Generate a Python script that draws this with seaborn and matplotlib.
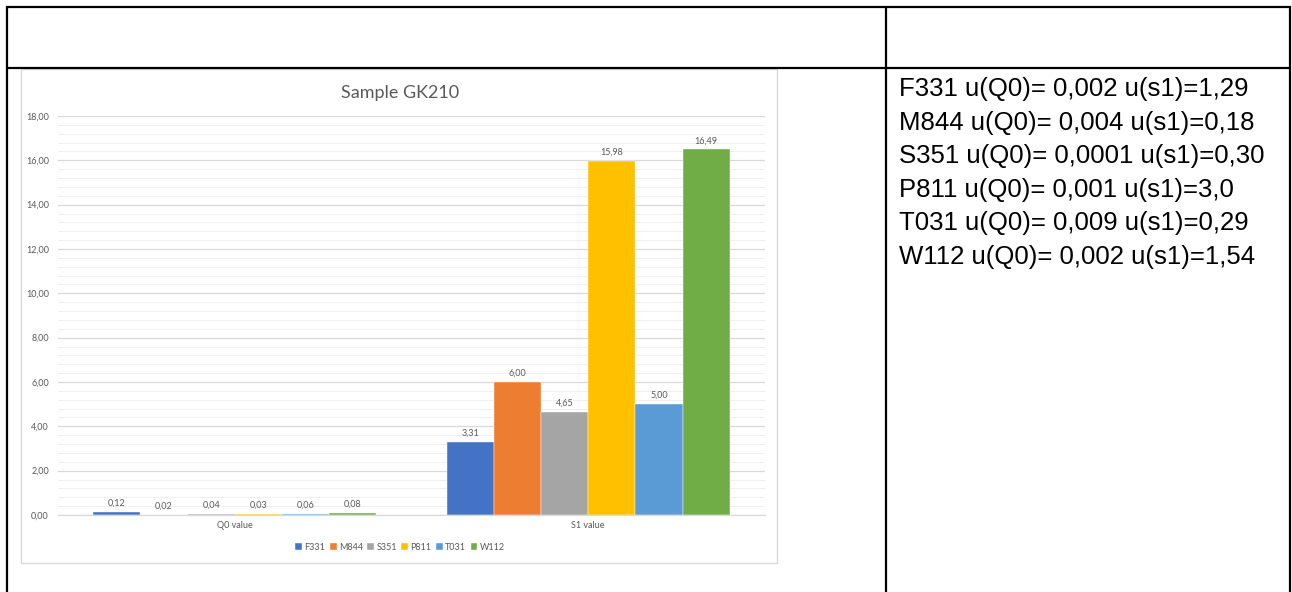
import matplotlib
matplotlib.use("Agg")
import matplotlib.pyplot as plt
from matplotlib.lines import Line2D
from matplotlib.patches import Rectangle
from matplotlib.ticker import MultipleLocator, FuncFormatter
import pandas as pd
import seaborn as sns

# ---- data ----
categories = ["Q0 value", "S1 value"]
samples = ["F331", "M844", "S351", "P811", "T031", "W112"]
q0_values = [0.12, 0.02, 0.04, 0.03, 0.06, 0.08]
s1_values = [3.31, 6.00, 4.65, 15.98, 5.00, 16.49]
colors = ["#4472C4", "#ED7D31", "#A5A5A5", "#FFC000", "#5B9BD5", "#70AD47"]
y_ticks = [0, 2, 4, 6, 8, 10, 12, 14, 16, 18]
chart_title = "Sample GK210"

# uncertainties listed beside the chart
u_q0 = ["0,002", "0,004", "0,0001", "0,001", "0,009", "0,002"]
u_s1 = ["1,29", "0,18", "0,30", "3,0", "0,29", "1,54"]

W, H = 1292, 592
sns.set_theme(style="white")
plt.rcParams["font.family"] = ["Lato", "DejaVu Sans"]

fig = plt.figure(figsize=(W / 100, H / 100), dpi=100)
fig.patch.set_facecolor("white")


def fx(px):
    return px / W


def fy(py):
    return 1 - py / H


# background layer in pixel coordinates for the table frame
bg = fig.add_axes([0, 0, 1, 1], zorder=0)
bg.set_xlim(0, W)
bg.set_ylim(H, 0)
bg.axis("off")

# chart frame
bg.add_patch(Rectangle((21, 69), 756, 494, fill=False, edgecolor="#D9D9D9", lw=1.0))

# table borders
line_kw = dict(color="black", lw=1.6, solid_capstyle="butt")
bg.add_line(Line2D([6, 1291], [6.5, 6.5], **line_kw))
bg.add_line(Line2D([6, 1291], [68, 68], **line_kw))
bg.add_line(Line2D([7, 7], [6, H], **line_kw))
bg.add_line(Line2D([885.5, 885.5], [6, H], **line_kw))
bg.add_line(Line2D([1290, 1290], [6, H], **line_kw))

# ---- bar chart ----
rows = []
for cat, vals in zip(categories, [q0_values, s1_values]):
    for s, v in zip(samples, vals):
        rows.append({"category": cat, "sample": s, "value": v})
df = pd.DataFrame(rows)

ax = fig.add_axes([fx(58), fy(515), fx(765) - fx(58), fy(116) - fy(515)], zorder=2)
ax.patch.set_alpha(0)
sns.barplot(
    data=df, x="category", y="value", hue="sample",
    order=categories, hue_order=samples, palette=colors,
    saturation=1, width=0.8, gap=0, errorbar=None, ax=ax,
    edgecolor="white", linewidth=0.3,
)
ax.set_xlim(-0.5, 1.5)
ax.set_ylim(0, 18)
ax.set_yticks(y_ticks)
ax.yaxis.set_minor_locator(MultipleLocator(0.4))
ax.yaxis.set_major_formatter(FuncFormatter(lambda v, p: f"{v:.2f}".replace(".", ",")))
ax.grid(axis="y", which="major", color="#D9D9D9", lw=0.9)
ax.grid(axis="y", which="minor", color="#EFEFEF", lw=0.7)
ax.set_axisbelow(True)
for side in ["top", "right", "left"]:
    ax.spines[side].set_visible(False)
ax.spines["bottom"].set_color("#D9D9D9")
ax.spines["bottom"].set_linewidth(0.9)
ax.tick_params(axis="both", which="both", length=0, labelsize=6.5, labelcolor="#595959")
ax.tick_params(axis="y", pad=6.5)
ax.tick_params(axis="x", pad=4)
ax.set_xlabel("")
ax.set_ylabel("")

for cont in ax.containers:
    labels = [f"{b.get_height():.2f}".replace(".", ",") for b in cont]
    ax.bar_label(cont, labels=labels, padding=3, fontsize=6.5, color="#595959")

handles, labels = ax.get_legend_handles_labels()
ax.get_legend().remove()
fig.legend(
    handles, labels, loc="center", bbox_to_anchor=(fx(400), fy(547)),
    ncol=6, frameon=False, fontsize=6.5, labelcolor="#595959",
    handlelength=0.75, handleheight=0.75, handletextpad=0.25, columnspacing=0.5,
)

fig.text(fx(400), fy(93), chart_title, ha="center", va="center",
         fontsize=13, color="#595959")

# ---- uncertainty list ----
for i, (s, q, u) in enumerate(zip(samples, u_q0, u_s1)):
    fig.text(fx(899), fy(96 + 33.6 * i), f"{s} u(Q0)= {q} u(s1)={u}",
             ha="left", va="baseline", fontsize=18.5,
             family=["Liberation Sans", "DejaVu Sans"], color="black")

fig.savefig("out.png", dpi=100, facecolor="white")
